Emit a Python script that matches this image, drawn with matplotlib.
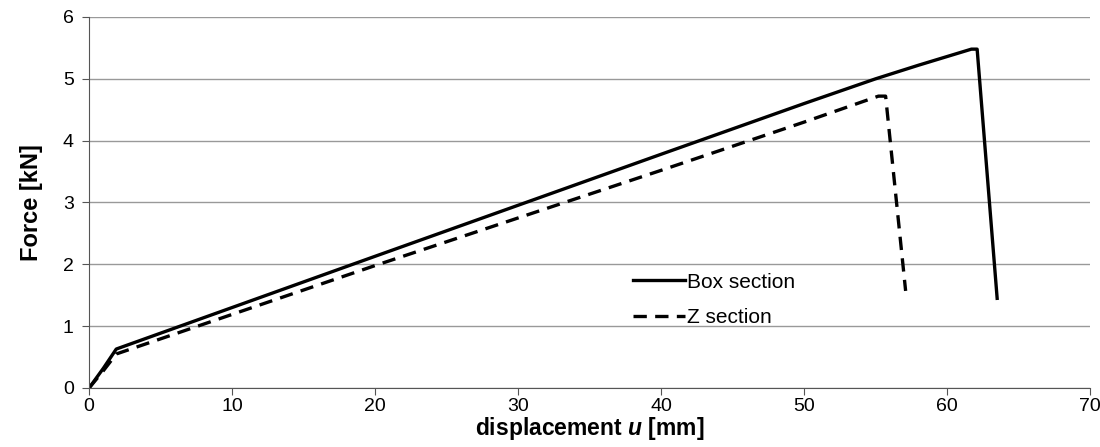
import matplotlib
matplotlib.use("Agg")
import matplotlib.pyplot as plt

box_x = [0, 1.0, 1.9, 20, 40, 50, 55, 58, 61.7, 62.1, 63.5]
box_y = [0, 0.32, 0.63, 2.13, 3.78, 4.6, 5.0, 5.22, 5.48, 5.48, 1.45]
z_x = [0, 1.0, 1.9, 20, 40, 50, 55.2, 55.7, 57.1]
z_y = [0, 0.28, 0.55, 1.98, 3.52, 4.3, 4.72, 4.72, 1.57]

plt.rcParams['font.family'] = ['Liberation Sans', 'DejaVu Sans']
plt.rcParams['mathtext.fontset'] = 'custom'
plt.rcParams['mathtext.bfit'] = 'Liberation Sans:bold:italic'
fig = plt.figure(figsize=(11, 4.47), dpi=100)
ax = fig.add_axes([0.081, 0.132, 0.91, 0.83])
ax.plot(box_x, box_y, color='black', lw=2.4, label='Box section')
ax.plot(z_x, z_y, color='black', lw=2.4, ls=(0, (4, 2.5)), label='Z section')
ax.set_xlim(0, 70)
ax.set_ylim(0, 6)
ax.set_xticks(range(0, 71, 10))
ax.set_yticks(range(0, 7))
ax.yaxis.grid(True, color='#999999', lw=1)
ax.set_axisbelow(True)
for s in ['top', 'right']:
    ax.spines[s].set_visible(False)
for s in ['left', 'bottom']:
    ax.spines[s].set_color('#555555')
ax.tick_params(labelsize=14, color='#555555', length=5, direction='out')
ax.tick_params(axis='y', pad=6)
ax.tick_params(axis='x', pad=2)
ax.set_ylabel('Force [kN]', fontsize=17, fontweight='bold', labelpad=14)
ax.set_xlabel(r'displacement $\boldsymbol{u}$ [mm]', fontsize=16.5, fontweight='bold', labelpad=0)
ax.legend(loc='upper left', bbox_to_anchor=(0.543, 0.311), frameon=False, fontsize=15,
          handlelength=2.5, handletextpad=0.1, labelspacing=0.8, borderaxespad=0, borderpad=0)
fig.savefig('out.png', dpi=100)
